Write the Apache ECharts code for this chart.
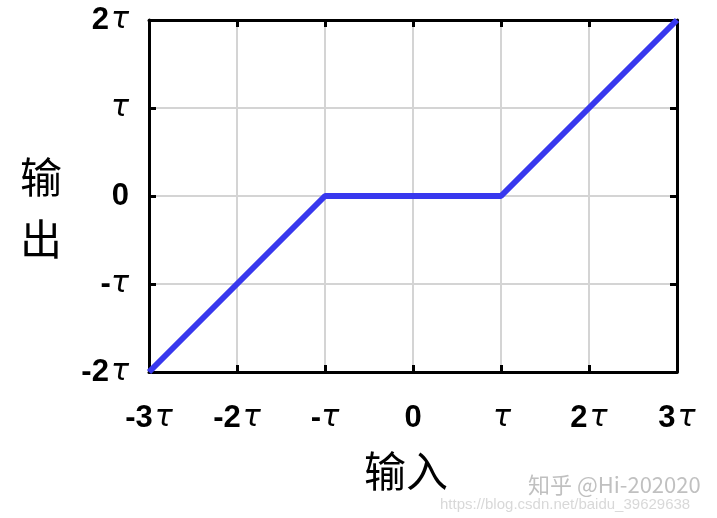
<!DOCTYPE html>
<html><head><meta charset="utf-8">
<script src="https://cdn.jsdelivr.net/npm/echarts@6/dist/echarts.min.js"></script>
<style>html,body{margin:0;padding:0;background:#fff}#c{width:717px;height:518px}</style>
</head><body><div id="c"></div>
<script>
const xTicks = [-3, -2, -1, 0, 1, 2, 3];
const yTicks = [-2, -1, 0, 1, 2];
const xValues = [-3, -1, 1, 3];
const yValues = [-2, 0, 0, 2];
const xName = '输入';
const yName = '输出';

function tauLabel(v) {
  if (v === 0) return '{n|0}';
  if (v === 1) return '{t|τ}';
  if (v === -1) return '{n|-}{u|τ}';
  return '{n|' + v + '}{t|τ}';
}
const rich = {
  n: { fontFamily: 'Liberation Sans, Arial', fontWeight: 'bold', fontSize: 31, color: '#000' },
  t: { fontFamily: 'DejaVu Sans', fontStyle: 'italic', fontSize: 30, color: '#000', padding: [0, 0, 0, 2] },
  u: { fontFamily: 'DejaVu Sans', fontStyle: 'italic', fontSize: 30, color: '#000' }
};
const chart = echarts.init(document.getElementById('c'));
const gridLine = { show: true, lineStyle: { color: '#d4d4d4', width: 2 } };
const axisLine = { show: true, onZero: false, lineStyle: { color: '#000', width: 3 } };
const axisTick = { show: true, inside: true, length: 7, lineStyle: { color: '#000', width: 3 } };
chart.setOption({
  animation: false,
  grid: { left: 149, right: 40, top: 20, bottom: 146 },
  xAxis: [
    { type: 'value', min: -3, max: 3, interval: 1, axisLine, axisTick, splitLine: gridLine,
      axisLabel: { margin: 31, formatter: v => tauLabel(v), rich } },
    { type: 'value', position: 'top', min: -3, max: 3, interval: 1, axisLine, axisTick,
      splitLine: { show: false }, axisLabel: { show: false } }
  ],
  yAxis: [
    { type: 'value', min: -2, max: 2, interval: 1, axisLine, axisTick, splitLine: gridLine,
      axisLabel: { margin: 20, formatter: v => tauLabel(v), rich } },
    { type: 'value', position: 'right', min: -2, max: 2, interval: 1, axisLine, axisTick,
      splitLine: { show: false }, axisLabel: { show: false } }
  ],
  series: [{
    type: 'line', data: xValues.map((x, i) => [x, yValues[i]]), symbol: 'none',
    lineStyle: { color: '#3838ee', width: 6 }, z: 5
  }],
  graphic: [
    { type: 'text', left: 20, top: 146, style: { text: yName.split('').join('\n'), fontSize: 42, lineHeight: 62, fontFamily: 'Noto Sans CJK SC', fill: '#000' } },
    { type: 'text', left: 364, top: 450, style: { text: xName, fontSize: 42, fontFamily: 'Noto Sans CJK SC', fill: '#000' } },
    { type: 'text', left: 528, top: 474, style: { text: '知乎 @Hi-202020', fontSize: 22, fontFamily: 'Noto Sans CJK SC', fill: 'rgba(150,150,150,0.6)' } },
    { type: 'text', left: 440, top: 497, style: { text: 'https://blog.csdn.net/baidu_39629638', fontSize: 15, fontFamily: 'Liberation Sans', fill: 'rgba(190,190,190,0.6)' } }
  ]
});
</script></body></html>
